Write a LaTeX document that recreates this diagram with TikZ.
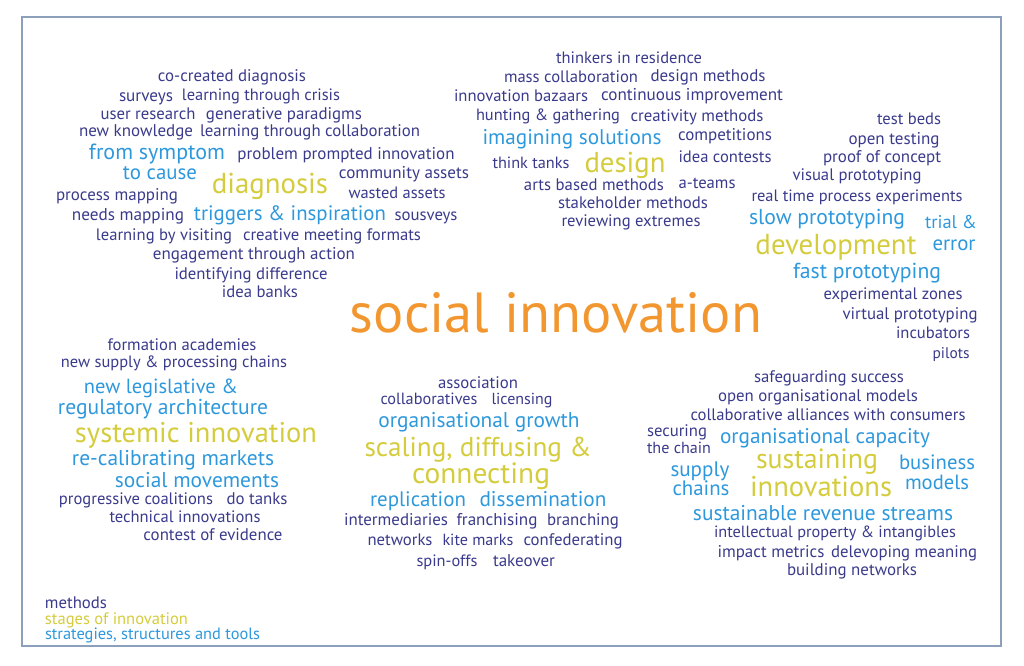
\documentclass[tikz,border=0pt]{standalone}
\usepackage{fontspec}
\setmainfont{PT Sans}
\usepackage{graphicx}
\definecolor{navy}{RGB}{58,58,140}
\definecolor{skyb}{RGB}{45,152,220}
\definecolor{olive}{RGB}{212,204,60}
\definecolor{orng}{RGB}{242,150,48}
\definecolor{framec}{RGB}{140,160,188}
\tikzset{
  word/.style={inner sep=0pt, outer sep=0pt, anchor=center},
  meth/.style={word, text=navy},
  strat/.style={word, text=skyb},
  stg/.style={word, text=olive},
  core/.style={word, text=orng},
  legendtxt/.style={anchor=west},
}
\newcommand\wc[5]{\node[#1] (#2) at (#3) {\resizebox{#4pt}{!}{\smash{#5}\vphantom{h}}};}
\begin{document}
\begin{tikzpicture}[x=1pt,y=-1pt]
\useasboundingbox (0,0) rectangle (1024,665);
\node[draw=framec, line width=2pt, minimum width=979pt, minimum height=629pt, inner sep=0pt, anchor=north west] (frame) at (21,16) {};
% top-left cluster
\wc{meth}{a1}{232,76}{148}{co-created diagnosis}
\wc{meth}{a2}{146,95}{54}{surveys}
\wc{meth}{a3}{261,95}{158}{learning through crisis}
\wc{meth}{a4}{148,114}{95}{user research}
\wc{meth}{a5}{284,114}{156}{generative paradigms}
\wc{meth}{a6}{136,131}{114}{new knowledge}
\wc{meth}{a7}{310,131}{220}{learning through collaboration}
\wc{strat}{a8}{157,152}{136}{from symptom}
\wc{meth}{a9}{346,154}{217}{problem prompted innovation}
\wc{strat}{a10}{160,172}{74}{to cause}
\wc{meth}{a11}{404,173}{130}{community assets}
\wc{stg}{a12}{270,183}{116}{diagnosis}
\wc{meth}{a13}{117,195}{122}{process mapping}
\wc{meth}{a14}{397,193}{97}{wasted assets}
\wc{meth}{a15}{128,214}{112}{needs mapping}
\wc{strat}{a16}{290,213}{192}{triggers \& inspiration}
\wc{meth}{a17}{426,215}{63}{sousveys}
\wc{meth}{a18}{164,235}{136}{learning by visiting}
\wc{meth}{a19}{332,235}{178}{creative meeting formats}
\wc{meth}{a20}{254,254}{202}{engagement through action}
\wc{meth}{a21}{251,274}{153}{identifying difference}
\wc{meth}{a22}{260,292}{76}{idea banks}
% top-middle cluster
\wc{meth}{b1}{629,58}{146}{thinkers in residence}
\wc{meth}{b2}{571,77}{134}{mass collaboration}
\wc{meth}{b3}{708,76}{115}{design methods}
\wc{meth}{b4}{521,96}{134}{innovation bazaars}
\wc{meth}{b5}{692,95}{182}{continuous improvement}
\wc{meth}{b6}{548,115}{144}{hunting \& gathering}
\wc{meth}{b7}{697,116}{133}{creativity methods}
\wc{strat}{b8}{572,137}{179}{imagining solutions}
\wc{meth}{b9}{725,135}{94}{competitions}
\wc{meth}{b10}{531,163}{77}{think tanks}
\wc{stg}{b11}{625,162}{81}{design}
\wc{meth}{b12}{725,157}{93}{idea contests}
\wc{meth}{b13}{594,185}{140}{arts based methods}
\wc{meth}{b14}{707,183}{57}{a-teams}
\wc{meth}{b15}{633,203}{150}{stakeholder methods}
\wc{meth}{b16}{631,221}{139}{reviewing extremes}
% top-right cluster
\wc{meth}{c1}{909,119}{64}{test beds}
\wc{meth}{c2}{894,139}{91}{open testing}
\wc{meth}{c3}{882,157}{118}{proof of concept}
\wc{meth}{c4}{857,175}{129}{visual prototyping}
\wc{meth}{c5}{857,196}{211}{real time process experiments}
\wc{strat}{c6}{827,217}{156}{slow prototyping}
\wc{strat}{c7}{951,222}{52}{trial \&}
\wc{stg}{c8}{836,244}{161}{development}
\wc{strat}{c9}{954,243}{43}{error}
\wc{strat}{c10}{867,271}{148}{fast prototyping}
\wc{meth}{c11}{893,294}{139}{experimental zones}
\wc{meth}{c12}{910,314}{135}{virtual prototyping}
\wc{meth}{c13}{933,333}{74}{incubators}
\wc{meth}{c14}{951,353}{37}{pilots}
% centre
\wc{core}{si}{556,313}{412}{social innovation}
% bottom-left cluster
\wc{meth}{d1}{182,345}{149}{formation academies}
\wc{meth}{d2}{174,362}{226}{new supply \& processing chains}
\wc{strat}{d3}{161,386}{154}{new legislative \&}
\wc{strat}{d4}{163,407}{210}{regulatory architecture}
\wc{stg}{d5}{196,433}{242}{systemic innovation}
\wc{strat}{d6}{173,458}{202}{re-calibrating markets}
\wc{strat}{d7}{197,480}{164}{social movements}
\wc{meth}{d8}{136,499}{154}{progressive coalitions}
\wc{meth}{d9}{257,499}{61}{do tanks}
\wc{meth}{d10}{185,517}{151}{technical innovations}
\wc{meth}{d11}{213,535}{139}{contest of evidence}
% bottom-middle cluster
\wc{meth}{e1}{478,383}{80}{association}
\wc{meth}{e2}{429,399}{97}{collaboratives}
\wc{meth}{e3}{522,399}{61}{licensing}
\wc{strat}{e4}{479,420}{201}{organisational growth}
\wc{stg}{e5}{478,447}{227}{scaling, diffusing \&}
\wc{stg}{e6}{481,473}{138}{connecting}
\wc{strat}{e7}{418,499}{96}{replication}
\wc{strat}{e8}{543,499}{127}{dissemination}
\wc{meth}{e9}{396,520}{104}{intermediaries}
\wc{meth}{e10}{497,520}{81}{franchising}
\wc{meth}{e11}{583,520}{72}{branching}
\wc{meth}{e12}{400,540}{65}{networks}
\wc{meth}{e13}{478,540}{71}{kite marks}
\wc{meth}{e14}{573,540}{99}{confederating}
\wc{meth}{e15}{447,561}{61}{spin-offs}
\wc{meth}{e16}{524,561}{62}{takeover}
% bottom-right cluster
\wc{meth}{f1}{829,377}{150}{safeguarding success}
\wc{meth}{f2}{818,396}{200}{open organisational models}
\wc{meth}{f3}{828,415}{275}{collaborative alliances with consumers}
\wc{meth}{f4}{677,431}{60}{securing}
\wc{meth}{f5}{679,448}{64}{the chain}
\wc{strat}{f6}{825,436}{210}{organisational capacity}
\wc{stg}{f7}{817,459}{122}{sustaining}
\wc{strat}{f8}{937,462}{76}{business}
\wc{strat}{f9}{700,469}{59}{supply}
\wc{strat}{f10}{701,488}{57}{chains}
\wc{stg}{f11}{821,486}{142}{innovations}
\wc{strat}{f12}{937,482}{64}{models}
\wc{strat}{f13}{823,513}{260}{sustainable revenue streams}
\wc{meth}{f14}{835,532}{242}{intellectual property \& intangibles}
\wc{meth}{f15}{771,552}{107}{impact metrics}
\wc{meth}{f16}{904,552}{146}{delevoping meaning}
\wc{meth}{f17}{852,570}{130}{building networks}
% legend
\wc{meth,legendtxt}{g1}{45,603}{62}{methods}
\wc{stg,legendtxt}{g2}{45,619}{143}{stages of innovation}
\wc{strat,legendtxt}{g3}{45,634}{215}{strategies, structures and tools}
\end{tikzpicture}
\end{document}
